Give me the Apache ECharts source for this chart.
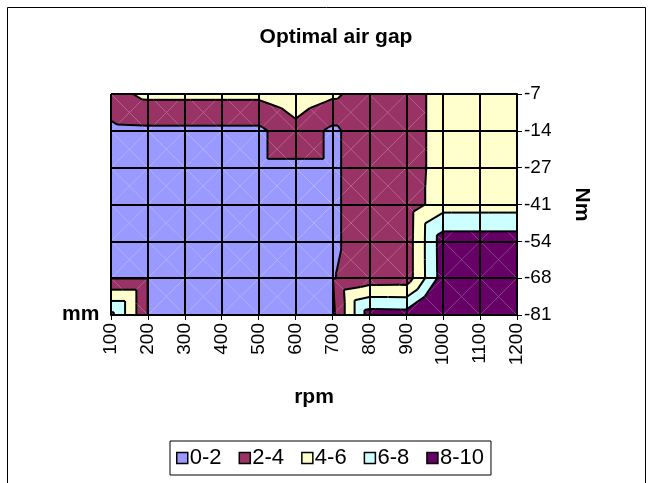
<!DOCTYPE html>
<html>
<head>
<meta charset="utf-8">
<title>Optimal air gap</title>
<script src="https://cdn.jsdelivr.net/npm/echarts@6/dist/echarts.min.js"></script>
<style>
html, body { margin: 0; padding: 0; background: #fff; }
#chart { width: 652px; height: 483px; }
</style>
</head>
<body>
<div id="chart"></div>
<script>
// x categories (rpm) and y categories (Nm, top to bottom)
const rpm = ['100', '200', '300', '400', '500', '600', '700', '800', '900', '1000', '1100', '1200'];
const nm = ['-7', '-14', '-27', '-41', '-54', '-68', '-81'];

// air gap in mm, one list per Nm row, one value per rpm
const gapNm7  = [3.33, 4.45, 4.45, 4.45, 4.45, 5.5, 4.37, 3.0, 3.0, 4.85, 4.85, 4.85];
const gapNm14 = [1.5, 1.6, 1.6, 1.6, 1.6, 3.27, 1.6, 3.3, 3.0, 4.85, 4.85, 4.85];
const gapNm27 = [1.0, 1.0, 1.0, 1.0, 1.6, 1.6, 1.6, 3.3, 3.0, 4.85, 4.85, 4.85];
const gapNm41 = [1.0, 1.0, 1.0, 1.0, 1.0, 1.0, 1.6, 3.3, 2.8, 5.14, 5.14, 5.14];
const gapNm54 = [1.0, 1.0, 1.0, 1.0, 1.0, 1.0, 1.6, 3.3, 2.9, 9.06, 9.06, 9.06];
const gapNm68 = [1.95, 1.95, 1.0, 1.0, 1.0, 1.0, 1.9, 2.87, 2.9, 8.98, 9.5, 9.5];
const gapNm81 = [8.5, 1.95, 1.0, 1.0, 1.0, 1.0, 1.5, 9.0, 8.9, 13.1, 9.8, 9.8];
const gap = [gapNm7, gapNm14, gapNm27, gapNm41, gapNm54, gapNm68, gapNm81];

// contour bands
const bandNames = ['0-2', '2-4', '4-6', '6-8', '8-10'];
const bandLevels = [0, 2, 4, 6, 8, 10];
const bandColors = ['#9999FF', '#993366', '#FFFFCC', '#CCFFFF', '#660066'];

const font = '"Liberation Sans", Arial, sans-serif';

// one item per grid cell: [rpm index, Nm index]
const cells = [];
for (let r = 0; r < nm.length - 1; r++) {
    for (let c = 0; c < rpm.length - 1; c++) {
        cells.push([c, r]);
    }
}

// keep the part of a polygon above (or below) a level
function clip(pts, level, above) {
    const out = [];
    for (let i = 0; i < pts.length; i++) {
        const a = pts[i], b = pts[(i + 1) % pts.length];
        const ina = above ? a.z >= level : a.z <= level;
        const inb = above ? b.z >= level : b.z <= level;
        if (ina) out.push(a);
        if (ina !== inb) {
            const t = (level - a.z) / (b.z - a.z);
            out.push({x: a.x + t * (b.x - a.x), y: a.y + t * (b.y - a.y), z: level});
        }
    }
    return out;
}

function crossing(tri, level) {
    const pts = [];
    for (let i = 0; i < 3; i++) {
        const a = tri[i], b = tri[(i + 1) % 3];
        if ((a.z < level) !== (b.z < level)) {
            const t = (level - a.z) / (b.z - a.z);
            pts.push([a.x + t * (b.x - a.x), a.y + t * (b.y - a.y)]);
        }
    }
    return pts.length === 2 ? pts : null;
}

function renderCell(params, api) {
    const c = api.value(0), r = api.value(1);
    const corner = (ci, ri) => {
        const p = api.coord([ci, ri]);
        return {x: p[0], y: p[1], z: gap[ri][ci]};
    };
    const tl = corner(c, r), tr = corner(c + 1, r);
    const br = corner(c + 1, r + 1), bl = corner(c, r + 1);
    const zs = [tl.z, tr.z, br.z, bl.z];
    const o = {x: (tl.x + br.x) / 2, y: (tl.y + br.y) / 2, z: (Math.max(...zs) + Math.min(...zs)) / 2};
    const tris = [[tl, tr, o], [tr, br, o], [br, bl, o], [bl, tl, o]];
    const children = [];
    tris.forEach((tri) => {
        for (let b = 0; b < bandColors.length; b++) {
            let poly = tri;
            if (b > 0) poly = clip(poly, bandLevels[b], true);
            if (b < bandColors.length - 1) poly = clip(poly, bandLevels[b + 1], false);
            if (poly.length >= 3) {
                children.push({
                    type: 'polygon', z2: 1,
                    shape: {points: poly.map((p) => [p.x, p.y])},
                    style: {fill: bandColors[b]}
                });
            }
        }
        for (let k = 1; k < bandLevels.length - 1; k++) {
            const seg = crossing(tri, bandLevels[k]);
            if (seg) {
                children.push({
                    type: 'line', z2: 5,
                    shape: {x1: seg[0][0], y1: seg[0][1], x2: seg[1][0], y2: seg[1][1]},
                    style: {stroke: '#000', lineWidth: 2}
                });
            }
        }
    });
    return {type: 'group', children: children};
}

const legendSeries = bandNames.map((name, i) => ({
    name: name,
    type: 'custom',
    renderItem: () => null,
    data: [],
    itemStyle: {color: bandColors[i]}
}));

const axisCommon = {
    type: 'category',
    boundaryGap: false,
    z: 5,
    axisLine: {lineStyle: {color: '#000', width: 2}},
    axisTick: {show: true, length: 5, lineStyle: {color: '#000', width: 1}},
    splitLine: {show: true, lineStyle: {color: '#000', width: 2}},
    nameTextStyle: {color: '#000', fontFamily: font, fontWeight: 'bold', fontSize: 21}
};

const option = {
    animation: false,
    backgroundColor: '#fff',
    title: {
        text: 'Optimal air gap',
        left: 331,
        textAlign: 'center',
        top: 22,
        textStyle: {color: '#000', fontFamily: font, fontWeight: 'bold', fontSize: 21}
    },
    legend: {
        data: bandNames,
        left: 170,
        top: 441,
        icon: 'rect',
        itemWidth: 11,
        itemHeight: 11,
        itemGap: 17,
        padding: [6, 7, 6, 6],
        borderColor: '#000',
        borderWidth: 1,
        itemStyle: {borderColor: '#000', borderWidth: 1.5},
        textStyle: {color: '#000', fontFamily: font, fontSize: 22, padding: [0, 0, 0, -3]}
    },
    grid: {left: 111, right: 135, top: 94, bottom: 168},
    xAxis: Object.assign({}, axisCommon, {
        data: rpm,
        position: 'bottom',
        name: 'rpm',
        nameLocation: 'middle',
        nameGap: 72,
        axisLabel: {rotate: 90, margin: 8, color: '#000', fontFamily: font, fontSize: 19}
    }),
    yAxis: Object.assign({}, axisCommon, {
        data: nm,
        inverse: true,
        position: 'right',
        name: 'Nm',
        nameLocation: 'middle',
        nameRotate: -90,
        nameGap: 54,
        axisLabel: {margin: 7, color: '#000', fontFamily: font, fontSize: 19}
    }),
    graphic: [
        {
            type: 'rect', silent: true,
            shape: {x: 7.5, y: 7.5, width: 638, height: 500},
            style: {fill: 'none', stroke: '#000', lineWidth: 1}
        },
        {
            type: 'text', left: 62, top: 304,
            style: {text: 'mm', fill: '#000', font: 'bold 21px ' + font}
        }
    ],
    series: [
        {
            type: 'custom',
            z: 1,
            renderItem: renderCell,
            data: cells
        }
    ].concat(legendSeries)
};

const myChart = echarts.init(document.getElementById('chart'));
myChart.setOption(option);
</script>
</body>
</html>
